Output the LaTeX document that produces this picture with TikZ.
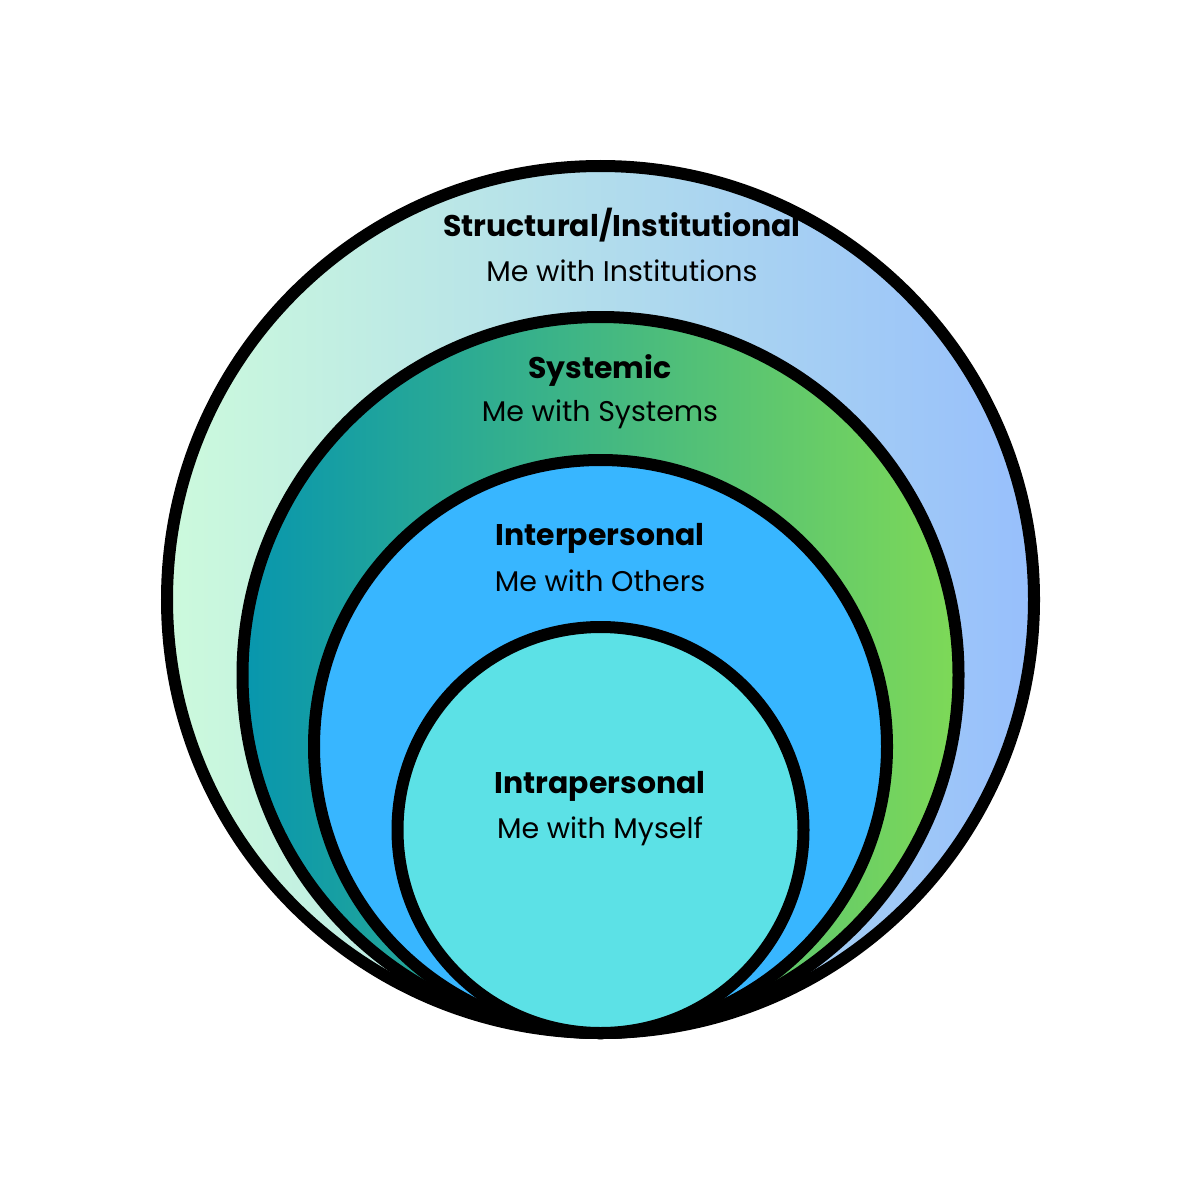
\documentclass[tikz,border=0pt]{standalone}
\usepackage{fontspec}
\setmainfont{Poppins}
\definecolor{outL}{HTML}{CCFADC}
\definecolor{outR}{HTML}{97BFFC}
\definecolor{midL}{HTML}{0796AE}
\definecolor{midR}{HTML}{7ED957}
\definecolor{interC}{HTML}{38B6FF}
\definecolor{intraC}{HTML}{5CE1E6}
\tikzset{
  ring/.style={draw=black, line width=0.12cm},
  ttl/.style={font=\fontsize{8.5pt}{9pt}\selectfont\bfseries, inner sep=0pt},
  sub/.style={font=\fontsize{8.1pt}{10pt}\selectfont, inner sep=0pt},
}
\begin{document}
\begin{tikzpicture}[x=0.01cm, y=-0.01cm]
\useasboundingbox[fill=white] (0,0) rectangle (1200,1200);
\shade[ring, left color=outL, right color=outR] (600.5,599.5) circle[radius=433.5];
\shade[ring, left color=midL, right color=midR] (600.5,675) circle[radius=358];
\fill[interC] (600.5,746.5) circle[radius=286.5];
\draw[ring] (600.5,746.5) circle[radius=286.5];
\fill[intraC] (600.5,830) circle[radius=203];
\draw[ring] (600.5,830) circle[radius=203];
\node[ttl] (t1) at (622,225) {Structural/Institutional};
\node[sub] (s1) at (622,271) {Me with Institutions};
\node[ttl] (t2) at (600,370) {Systemic};
\node[sub] (s2) at (600,414) {Me with Systems};
\node[ttl] (t3) at (600,538) {Interpersonal};
\node[sub] (s3) at (600,581) {Me with Others};
\node[ttl] (t4) at (600,786) {Intrapersonal};
\node[sub] (s4) at (600,831) {Me with Myself};
\end{tikzpicture}
\end{document}
